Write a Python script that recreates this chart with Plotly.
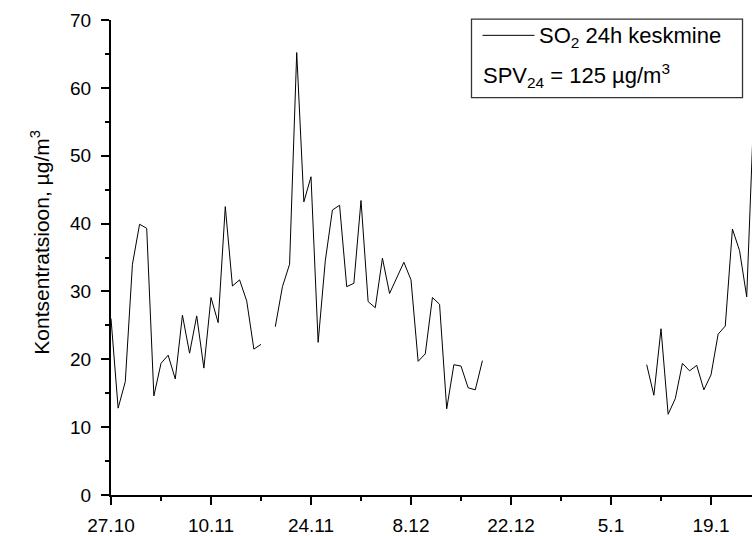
import pandas as pd
import plotly.graph_objects as go

# Daily mean SO2 concentration (µg/m³), one value per day from 27.10;
# None marks days without a measurement.
start_date = "2008-10-27"
so2_daily = [
    26.0, 12.8, 16.7, 34.0, 39.9, 39.3, 14.6, 19.4, 20.6, 17.1,
    26.5, 20.9, 26.4, 18.7, 29.1, 25.4, 42.5, 30.8, 31.7, 28.6,
    21.5, 22.2, None, 24.8, 30.7, 34.0, 65.2, 43.2, 46.9, 22.5,
    34.5, 42.0, 42.7, 30.7, 31.2, 43.4, 28.5, 27.6, 34.9, 29.7,
    32.0, 34.3, 31.7, 19.7, 20.8, 29.1, 28.1, 12.7, 19.2, 19.0,
    15.8, 15.5, 19.8, None, None, None, None, None, None, None,
    None, None, None, None, None, None, None, None, None, None,
    None, None, None, None, None, 19.2, 14.7, 24.5, 11.9, 14.2,
    19.4, 18.3, 19.1, 15.5, 17.7, 23.7, 24.9, 39.2, 36.0, 29.2,
    57.0,
]
dates = pd.date_range(start_date, periods=len(so2_daily), freq="D")

x_range = ["2008-10-27", "2009-01-24 17:46"]
y_range = [0, 70]

series_label = "SO<sub>2</sub> 24h keskmine"
limit_label = "SPV<sub>24</sub> = 125 \u00b5g/m<sup>3</sup>"
y_title = "Kontsentratsioon, \u00b5g/m<sup>3</sup>"

FONT = "Liberation Sans, Arial, sans-serif"
DAY_MS = 86400000

fig = go.Figure()
fig.add_trace(go.Scatter(
    x=dates, y=so2_daily, mode="lines",
    line=dict(color="black", width=1),
    connectgaps=False, showlegend=False,
))

fig.update_layout(
    width=752, height=536,
    margin=dict(l=111, r=0, t=20, b=36),
    paper_bgcolor="white", plot_bgcolor="white",
    font=dict(family=FONT, color="black", size=19),
    showlegend=False,
)

fig.update_xaxes(
    type="date", range=x_range,
    tick0="2008-10-27", dtick=14 * DAY_MS, tickformat="%-d.%-m",
    showgrid=False, zeroline=False,
    showline=True, linecolor="black", linewidth=2,
    ticks="outside", ticklen=8, tickwidth=2, tickcolor="black",
    ticklabelstandoff=4,
    tickfont=dict(size=19),
    minor=dict(dtick=7 * DAY_MS, tick0="2008-10-27", ticks="outside",
               ticklen=4, tickwidth=2, tickcolor="black", showgrid=False),
)
fig.update_yaxes(
    range=y_range, dtick=10, tick0=0,
    showgrid=False, zeroline=False,
    showline=True, linecolor="black", linewidth=2,
    ticks="outside", ticklen=8, tickwidth=2, tickcolor="black",
    ticklabelstandoff=6,
    tickfont=dict(size=19),
    minor=dict(dtick=5, ticks="outside", ticklen=4, tickwidth=2,
               tickcolor="black", showgrid=False),
)

# y-axis title
fig.add_annotation(
    xref="paper", yref="paper", x=-0.111, y=0.533,
    text=y_title, textangle=-90, showarrow=False,
    font=dict(size=21), xanchor="center", yanchor="middle",
)

# legend box with line sample and the limit value note
fig.add_shape(type="rect", xref="paper", yref="paper",
              x0=0.5624, x1=0.9852, y0=0.8365, y1=1.002,
              line=dict(color="#333333", width=1.3), fillcolor="white",
              layer="above")
fig.add_shape(type="line", xref="paper", yref="paper",
              x0=0.5796, x1=0.6607, y0=0.9677, y1=0.9677,
              line=dict(color="black", width=1), layer="above")
fig.add_annotation(
    xref="paper", yref="paper", x=0.664, y=0.9646,
    text=series_label, showarrow=False,
    font=dict(size=22), xanchor="left", yanchor="middle",
)
fig.add_annotation(
    xref="paper", yref="paper", x=0.5766, y=0.883,
    text=limit_label, showarrow=False,
    font=dict(size=22), xanchor="left", yanchor="middle",
)

fig.write_html("out.html")
